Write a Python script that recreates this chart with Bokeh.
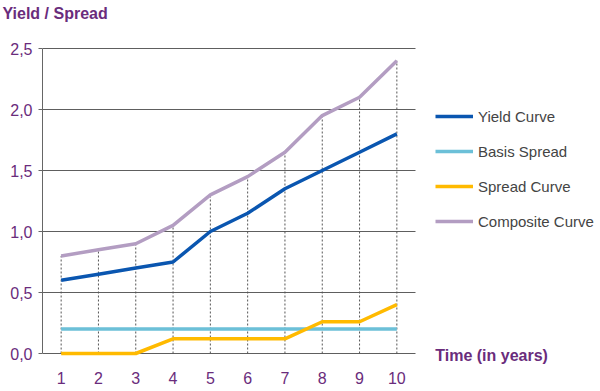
from bokeh.plotting import figure
from bokeh.models import Range1d, FixedTicker, Legend, LegendItem, Label
from bokeh.embed import file_html
from bokeh.resources import INLINE

years = [1, 2, 3, 4, 5, 6, 7, 8, 9, 10]
yield_curve = [0.6, 0.65, 0.7, 0.75, 1.0, 1.15, 1.35, 1.5, 1.65, 1.8]
basis_spread = [0.2, 0.2, 0.2, 0.2, 0.2, 0.2, 0.2, 0.2, 0.2, 0.2]
spread_curve = [0.0, 0.0, 0.0, 0.12, 0.12, 0.12, 0.12, 0.26, 0.26, 0.4]
composite_curve = [0.8, 0.85, 0.9, 1.05, 1.3, 1.45, 1.65, 1.95, 2.1, 2.4]
y_ticks = [0.0, 0.5, 1.0, 1.5, 2.0, 2.5]
y_tick_labels = ["0,0", "0,5", "1,0", "1,5", "2,0", "2,5"]
series_names = ["Yield Curve", "Basis Spread", "Spread Curve", "Composite Curve"]
series_colors = ["#0A56B0", "#6CC0D8", "#FFBA00", "#B39DC2"]

PURPLE = "#6A2C7C"
FONT = "Liberation Sans"

PX_PER_X = 37.3
PX_PER_Y = 122.0
X0, X1 = 0.5, 10.5
X_END = X0 + 558 / PX_PER_X      # frame extends to the right canvas edge (legend area)
Y_PAD = 12 / PX_PER_Y            # frame extends a little below zero for the x-axis title
Y_TOP = 2.5 + 26 / PX_PER_Y      # frame extends a little above 2.5 (title sits above)

p = figure(width=600, height=391, output_backend="svg", toolbar_location=None,
           x_range=Range1d(X0, X_END), y_range=Range1d(-Y_PAD, Y_TOP),
           min_border_left=42, min_border_right=0, min_border_top=22, min_border_bottom=26)
p.outline_line_color = None
p.background_fill_color = None
p.border_fill_color = "white"

p.title.text = "Yield / Spread"
p.title.align = "left"
p.title.offset = -40
p.title.text_color = PURPLE
p.title.text_font = FONT
p.title.text_font_style = "bold"
p.title.text_font_size = "16px"
p.title.standoff = 2

# axes
p.xaxis.ticker = FixedTicker(ticks=years)
p.xaxis.axis_line_color = None
p.xaxis.major_tick_line_color = None
p.xaxis.minor_tick_line_color = None
p.xaxis.major_label_standoff = 0
p.xaxis.major_label_text_color = PURPLE
p.xaxis.major_label_text_font = FONT
p.xaxis.major_label_text_font_size = "16px"

p.yaxis.ticker = FixedTicker(ticks=y_ticks)
p.yaxis.bounds = (0, 2.5)
p.yaxis.major_label_overrides = {t: l for t, l in zip(y_ticks, y_tick_labels)}
p.yaxis.axis_line_color = "#666666"
p.yaxis.major_tick_line_color = "#666666"
p.yaxis.major_tick_in = 0
p.yaxis.major_tick_out = 4
p.yaxis.minor_tick_line_color = None
p.yaxis.major_label_standoff = 6
p.yaxis.major_label_text_color = PURPLE
p.yaxis.major_label_text_font = FONT
p.yaxis.major_label_text_font_size = "16px"

p.xgrid.grid_line_color = None
p.ygrid.grid_line_color = None

# horizontal grid lines limited to the plotting area
p.segment(x0=[X0] * len(y_ticks), y0=y_ticks, x1=[X1] * len(y_ticks), y1=y_ticks,
          line_color="#5E5E5E", line_width=1)

# drop lines
p.segment(x0=years, y0=[0] * len(years), x1=years, y1=composite_curve,
          line_color="#555555", line_dash="2 2", line_width=1)

renderers = []
for vals, col in zip([yield_curve, basis_spread, spread_curve, composite_curve], series_colors):
    r = p.line(years, vals, line_color=col, line_width=3.5)
    renderers.append(r)

legend = Legend(items=[LegendItem(label=n, renderers=[r]) for n, r in zip(series_names, renderers)],
                location=(393, 134), orientation="vertical",
                glyph_width=38, glyph_height=20, label_height=20, spacing=15,
                label_standoff=5, padding=0, margin=0,
                border_line_color=None, background_fill_alpha=0,
                label_text_font=FONT, label_text_font_size="15px", label_text_color="#444444")
p.add_layout(legend, "center")

p.add_layout(Label(x=11.03, y=-0.015, text="Time (in years)", text_color=PURPLE,
                   text_font=FONT, text_font_style="bold", text_font_size="16px",
                   text_baseline="middle"))

open("out.html", "w").write(file_html(p, INLINE))
